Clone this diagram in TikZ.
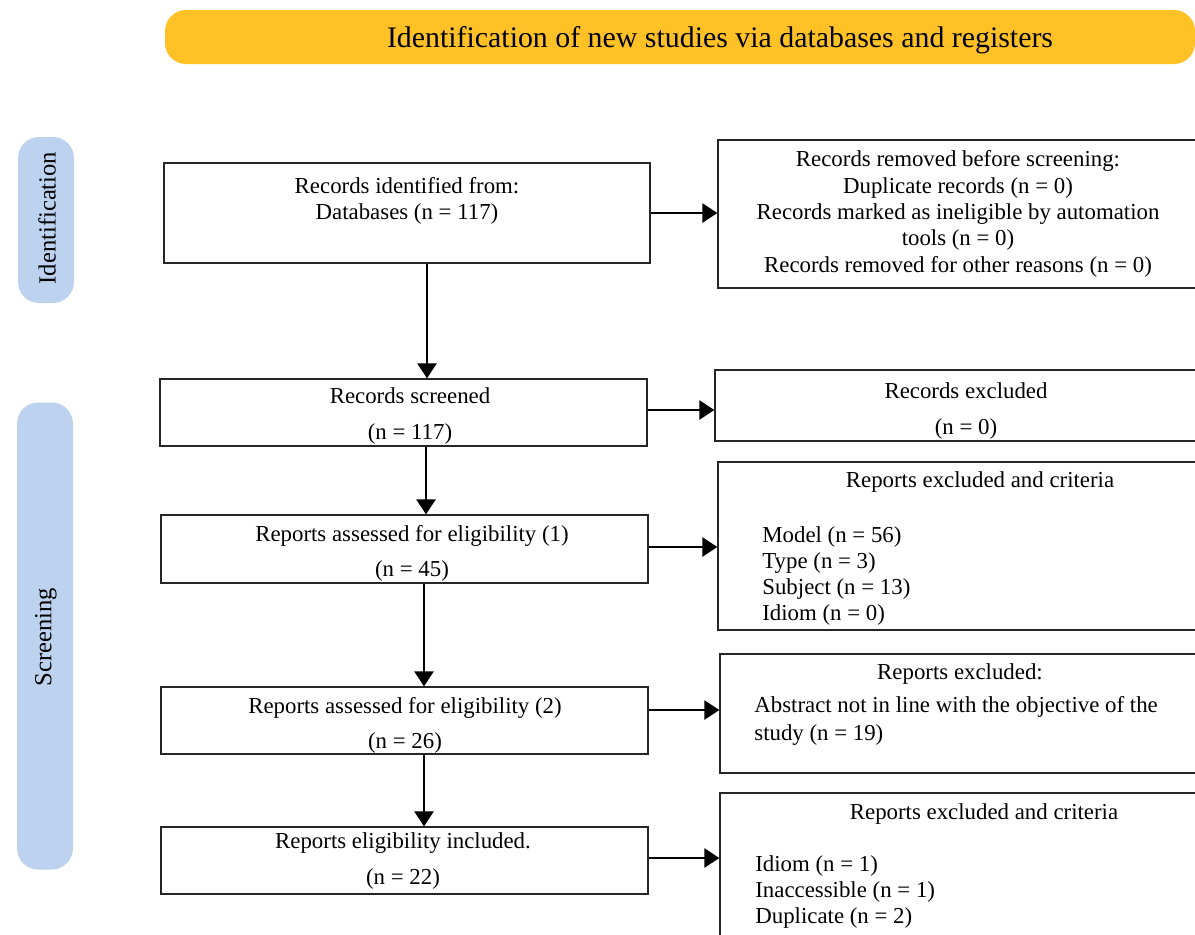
\documentclass[tikz,border=0pt]{standalone}
\usepackage{fontspec}
\setmainfont{Liberation Serif}
\usetikzlibrary{arrows.meta}
\definecolor{bannercol}{RGB}{255,193,38}
\definecolor{phasecol}{RGB}{189,210,238}
\tikzset{
	box/.style={draw=black!85, line width=0.8pt, inner sep=0pt},
	txt/.style={font=\fontsize{13}{15}\selectfont, inner sep=0pt, align=center},
	lst/.style={font=\fontsize{13}{14.8}\selectfont, inner sep=0pt, align=left, anchor=north west},
	phase/.style={fill=phasecol, rounded corners=12pt, inner sep=0pt},
}
\begin{document}
\begin{tikzpicture}[x=0.02cm, y=-0.02cm, >={Triangle[length=8.5pt,width=11pt]}]
		\useasboundingbox (0,0) rectangle (1195,934);
		\clip (0,0) rectangle (1195,934);
		% Banner
		\node [fill=bannercol, rounded corners=12pt, minimum width=1030*0.02cm, minimum height=54*0.02cm, inner sep=0pt] (banner) at (680,37) {};
		\node [font=\fontsize{17}{19}\selectfont, inner sep=0pt] (bannert) at (720,40) {Identification of new studies via databases and registers};
		% Fasi
		\node [phase, minimum width=56*0.02cm, minimum height=166*0.02cm] (idf) at (46,220) {};
		\node [txt, font=\fontsize{14}{16}\selectfont, rotate=90] (idft) at (47,218) {Identification};
		\node [phase, minimum width=56*0.02cm, minimum height=467*0.02cm] (scr) at (45,636) {};
		\node [txt, font=\fontsize{14}{16}\selectfont, rotate=90] (scrt) at (46,637) {Screening};
		% Colonna sinistra
		\node [box, minimum width=486*0.02cm, minimum height=100*0.02cm] (b1) at (407,213) {};
		\node [txt] (b1t) at (407,201) {Records identified from:\\Databases (n = 117)};
		\node [box, minimum width=487*0.02cm, minimum height=67*0.02cm] (b2) at (403.5,412.5) {};
		\node [txt] (b2t) at (410,416) {Records screened\\[5pt](n = 117)};
		\node [box, minimum width=487*0.02cm, minimum height=68*0.02cm] (b3) at (404.5,549) {};
		\node [txt] (b3t) at (412,553) {Reports assessed for eligibility (1)\\[5pt](n = 45)};
		\node [box, minimum width=487*0.02cm, minimum height=67*0.02cm] (b4) at (404.5,720.5) {};
		\node [txt] (b4t) at (405,725) {Reports assessed for eligibility (2)\\[5pt](n = 26)};
		\node [box, minimum width=487*0.02cm, minimum height=67*0.02cm] (b5) at (404.5,860.5) {};
		\node [txt] (b5t) at (403,861) {Reports eligibility included.\\[5pt](n = 22)};
		% Colonna destra
		\node [box, minimum width=520*0.02cm, minimum height=148*0.02cm] (r1) at (978,214) {};
		\node [txt] (r1t) at (958,214) {Records removed before screening:\\Duplicate records (n = 0)\\Records marked as ineligible by automation\\tools (n = 0)\\Records removed for other reasons (n = 0)};
		\node [box, minimum width=520*0.02cm, minimum height=71*0.02cm] (r2) at (975,405.5) {};
		\node [txt] (r2t) at (966,411) {Records excluded\\[5pt](n = 0)};
		\node [box, minimum width=520*0.02cm, minimum height=168*0.02cm] (r3) at (978,546) {};
		\node [txt] (r3t) at (980,482) {Reports excluded and criteria};
		\node [lst] (r3l) at (762,526) {Model (n = 56)\\Type (n = 3)\\Subject (n = 13)\\Idiom (n = 0)};
		\node [box, minimum width=520*0.02cm, minimum height=119*0.02cm] (r4) at (980,713.5) {};
		\node [txt] (r4t) at (960,674) {Reports excluded:};
		\node [lst, font=\fontsize{13}{16}\selectfont] (r4l) at (754,696) {Abstract not in line with the objective of the\\study (n = 19)};
		\node [box, minimum width=520*0.02cm, minimum height=200*0.02cm] (r5) at (980,893) {};
		\node [txt] (r5t) at (984,814) {Reports excluded and criteria};
		\node [lst] (r5l) at (755,855) {Idiom (n = 1)\\Inaccessible (n = 1)\\Duplicate (n = 2)};
		% Frecce
		\draw [->, line width=0.8pt] (b1.south -| 427,0) -- (b2.north -| 427,0);
		\draw [->, line width=0.8pt] (b2.south -| 426,0) -- (b3.north -| 426,0);
		\draw [->, line width=0.8pt] (b3.south -| 424,0) -- (b4.north -| 424,0);
		\draw [->, line width=0.8pt] (b4.south -| 424,0) -- (b5.north -| 424,0);
		\draw [->, line width=0.8pt] (b1.east |- 0,213) -- (r1.west |- 0,213);
		\draw [->, line width=0.8pt] (b2.east |- 0,410) -- (r2.west |- 0,410);
		\draw [->, line width=0.8pt] (b3.east |- 0,547) -- (r3.west |- 0,547);
		\draw [->, line width=0.8pt] (b4.east |- 0,710) -- (r4.west |- 0,710);
		\draw [->, line width=0.8pt] (b5.east |- 0,858) -- (r5.west |- 0,858);
	\end{tikzpicture}
\end{document}
